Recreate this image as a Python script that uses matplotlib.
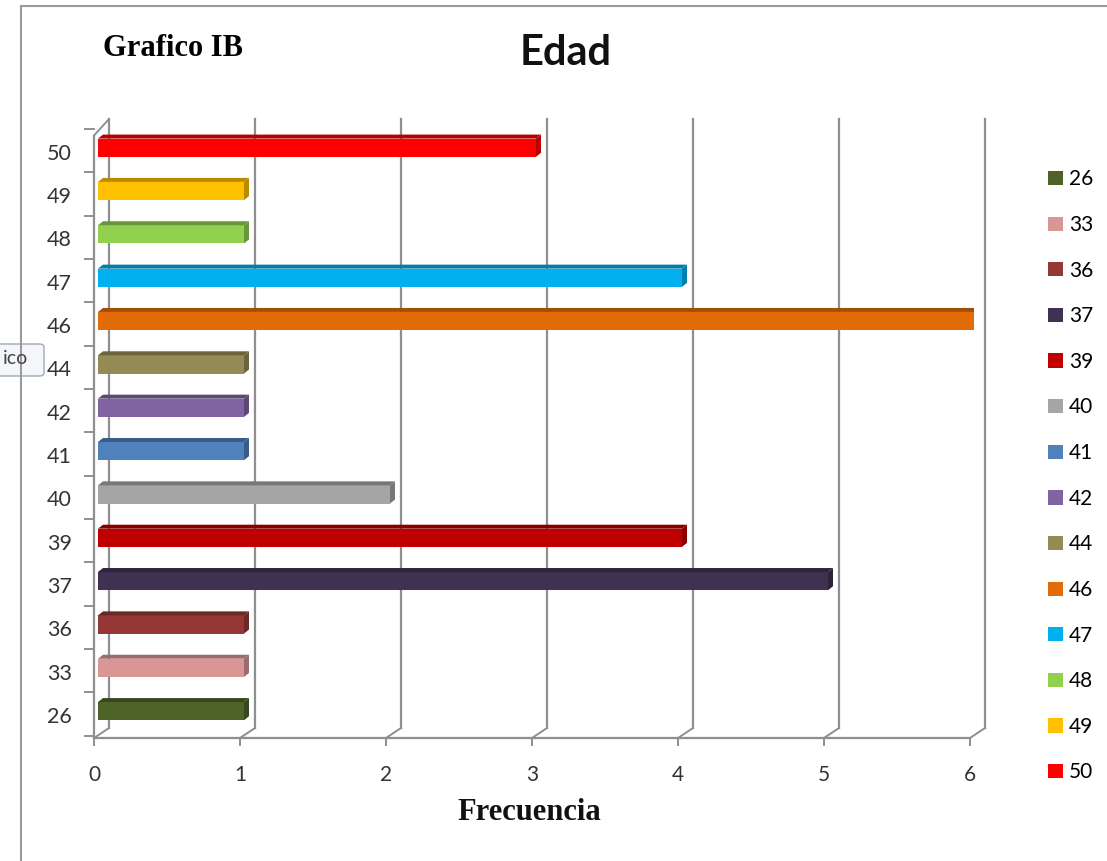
import matplotlib
matplotlib.use("Agg")
import matplotlib.pyplot as plt
from matplotlib.patches import Polygon, Patch, FancyBboxPatch
from matplotlib.transforms import offset_copy
import matplotlib.colors as mcolors

edades = ["26", "33", "36", "37", "39", "40", "41", "42", "44", "46", "47", "48", "49", "50"]
frecuencia = [1, 1, 1, 5, 4, 2, 1, 1, 1, 6, 4, 1, 1, 3]
colores = ["#4f6228", "#d99694", "#953735", "#3f3151", "#c00000", "#a5a5a5", "#4f81bd",
           "#8064a2", "#948a54", "#e36c09", "#00b0f0", "#92d050", "#ffc000", "#ff0000"]
x_ticks = [0, 1, 2, 3, 4, 5, 6]

W, H = 1107, 861
fig = plt.figure(figsize=(W / 100, H / 100), dpi=100)
fig.patch.set_facecolor("white")

# marco exterior
fig.add_artist(plt.Line2D([21 / W, 21 / W], [0, 1 - 6 / H], color="#9a9a9a", lw=1.5))
fig.add_artist(plt.Line2D([21 / W, 1], [1 - 6 / H, 1 - 6 / H], color="#9a9a9a", lw=1.5))

ax = fig.add_axes([98 / W, (H - 735) / H, 876 / W, (735 - 126) / H])
ax.set_xlim(0, 6)
ax.set_ylim(-0.55, 13.5)
ax.axis("off")

front = offset_copy(ax.transData, fig=fig, x=-4, y=-3, units="dots")
back = offset_copy(ax.transData, fig=fig, x=11, y=7, units="dots")
gris = "#8f8f8f"
y0, y1 = -0.55, 13.5

# pared del fondo y piso
for xv in x_ticks:
    ax.plot([xv, xv], [y0, y1], color=gris, lw=1.6, transform=back, clip_on=False, zorder=1)
ax.plot([0, 6], [y0, y0], color=gris, lw=1.6, transform=front, clip_on=False, zorder=1)
ax.plot([0, 0], [y0, y1 - 0.15], color=gris, lw=1.6, transform=front, clip_on=False, zorder=1)

# diagonales de profundidad
for xv in x_ticks:
    p0 = front.transform((xv, y0))
    p1 = back.transform((xv, y0))
    fig.add_artist(plt.Line2D([p0[0] / W, p1[0] / W], [p0[1] / H, p1[1] / H],
                              color=gris, lw=1.4))
p0 = front.transform((0, y1 - 0.15))
p1 = back.transform((0, y1))
fig.add_artist(plt.Line2D([p0[0] / W, p1[0] / W], [p0[1] / H, p1[1] / H], color=gris, lw=1.4))

# marcas de los ejes
for xv in x_ticks:
    p = front.transform((xv, y0))
    fig.add_artist(plt.Line2D([p[0] / W, p[0] / W], [p[1] / H, (p[1] - 7) / H], color=gris, lw=1.4))
    fig.text(p[0] / W, (p[1] - 37) / H, str(xv), ha="center", va="center",
             fontsize=15, family="Lato", color="#333333")
for k in range(len(edades) + 1):
    p = front.transform((0, k - 0.5))
    fig.add_artist(plt.Line2D([(p[0] - 9) / W, p[0] / W], [p[1] / H, p[1] / H], color=gris, lw=1.4))
for k, lab in enumerate(edades):
    p = front.transform((0, k))
    fig.text((p[0] - 22) / W, (p[1] - 3) / H, lab, ha="right", va="center",
             fontsize=15.5, family="Lato", color="#333333")

# barras con efecto 3D
h = 0.42
ddx, ddy = 5 / 146, 4 / 43.5
bars = ax.barh(range(len(edades)), frecuencia, height=h, color=colores, zorder=3)
for k, (v, c) in enumerate(zip(frecuencia, colores)):
    oscuro = tuple(0.72 * ch for ch in mcolors.to_rgb(c))
    top = k + h / 2
    bot = k - h / 2
    ax.add_patch(Polygon([(0, top), (v, top), (v + ddx, top + ddy), (ddx, top + ddy)],
                         closed=True, color=oscuro, lw=0, zorder=3))
    ax.add_patch(Polygon([(v, bot), (v, top), (v + ddx, top + ddy), (v + ddx, bot + ddy)],
                         closed=True, color=oscuro, lw=0, zorder=3))

# leyenda
handles = [Patch(facecolor=c, label=e) for e, c in zip(edades, colores)]
fig.legend(handles=handles, loc="upper left", bbox_to_anchor=(1040 / W, 1 - 161 / H),
           frameon=False, prop={"family": "Lato", "size": 15}, handlelength=0.68,
           handleheight=0.68, handletextpad=0.32, labelspacing=1.23, borderaxespad=0)

fig.text(566 / W, 1 - 53 / H, "Edad", ha="center", va="center", fontsize=30,
         family="Lato", weight="bold", color="#111111")
fig.text(103 / W, 1 - 49 / H, "Grafico IB", ha="left", va="center", fontsize=22,
         family="Liberation Serif", weight="bold", color="black")
fig.text(529 / W, 1 - 812 / H, "Frecuencia", ha="center", va="center", fontsize=22,
         family="Liberation Serif", weight="bold", color="#111111")

# etiqueta flotante
fig.add_artist(FancyBboxPatch((-8 / W, (H - 376) / H), 52 / W, 32 / H,
                              boxstyle="round,pad=0,rounding_size=0.004",
                              transform=fig.transFigure, facecolor="#f4f6fa",
                              edgecolor="#a0a8b8", lw=1))
fig.text(3 / W, 1 - 359 / H, "ico", ha="left", va="center", fontsize=14,
         family="Lato", color="#444444")

fig.savefig("out.png", dpi=100)
